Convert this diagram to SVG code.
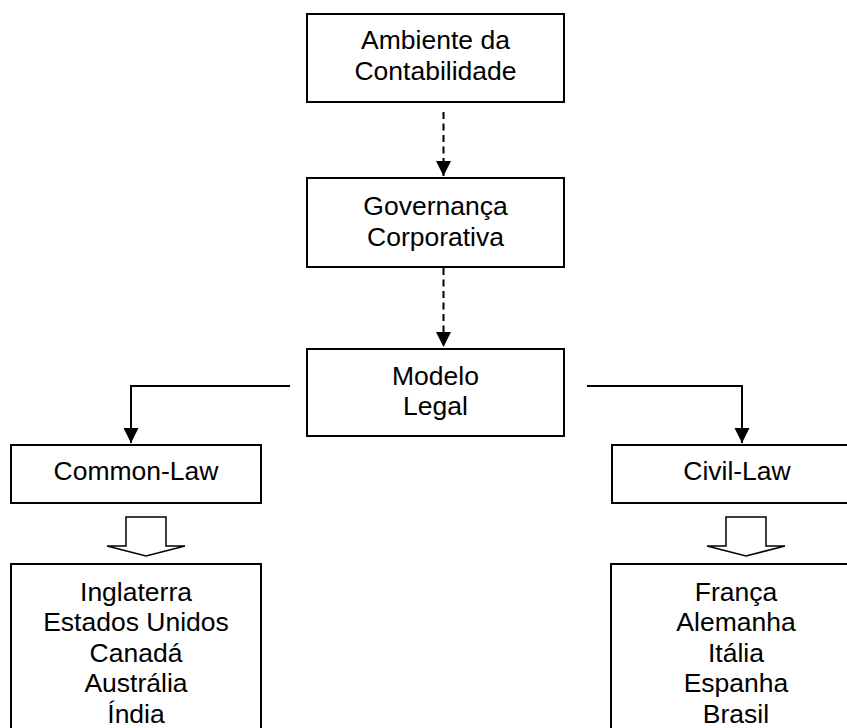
<svg xmlns="http://www.w3.org/2000/svg" width="847" height="728" viewBox="0 0 847 728">
  <defs>
    <style>
      .box { fill: #ffffff; stroke: #000000; stroke-width: 2; }
      .lbl { font-family: "Liberation Sans", Arial, sans-serif; font-size: 26.5px; fill: #000000; text-anchor: middle; }
      .dash { fill: none; stroke: #000000; stroke-width: 2; stroke-dasharray: 7 4.5; }
      .solid { fill: none; stroke: #000000; stroke-width: 2; }
      .block { fill: #ffffff; stroke: #000000; stroke-width: 1.5; stroke-linejoin: miter; }
    </style>
    <marker id="tri" markerWidth="15" markerHeight="16" refX="15" refY="7.5" orient="auto" markerUnits="userSpaceOnUse" viewBox="0 0 15 15">
      <path d="M0,0 L15,7.5 L0,15 Z" fill="#000000"/>
    </marker>
  </defs>
  <rect width="847" height="728" fill="#ffffff"/>

  <g id="connectors">
    <line class="dash" x1="443.5" y1="112" x2="443.5" y2="176" marker-end="url(#tri)"/>
    <line class="dash" x1="443.5" y1="268" x2="443.5" y2="347" marker-end="url(#tri)"/>
    <polyline class="solid" points="290,386 131,386 131,443" marker-end="url(#tri)"/>
    <polyline class="solid" points="587,386 742,386 742,443" marker-end="url(#tri)"/>
    <polygon class="block" points="126,517 166,517 166,546 185,546 146,556 107,546 126,546"/>
    <polygon class="block" points="726,517 766,517 766,546 785,546 746,556 707,546 726,546"/>
  </g>

  <g id="ambiente">
    <rect class="box" x="307" y="14" width="257" height="88"/>
    <text class="lbl" x="435.5" y="49">Ambiente da</text>
    <text class="lbl" x="435.5" y="80">Contabilidade</text>
  </g>

  <g id="governanca">
    <rect class="box" x="307" y="178" width="257" height="89"/>
    <text class="lbl" x="435.5" y="215">Governança</text>
    <text class="lbl" x="435.5" y="246">Corporativa</text>
  </g>

  <g id="modelo">
    <rect class="box" x="307" y="349" width="257" height="87"/>
    <text class="lbl" x="435.5" y="385">Modelo</text>
    <text class="lbl" x="435.5" y="415">Legal</text>
  </g>

  <g id="common-law">
    <rect class="box" x="11" y="445" width="250" height="58"/>
    <text class="lbl" x="136" y="480">Common-Law</text>
  </g>

  <g id="civil-law">
    <rect class="box" x="612" y="445" width="250" height="58"/>
    <text class="lbl" x="737" y="480">Civil-Law</text>
  </g>

  <g id="paises-common">
    <rect class="box" x="11" y="564" width="250" height="180"/>
    <text class="lbl" x="136" y="601">Inglaterra</text>
    <text class="lbl" x="136" y="631">Estados Unidos</text>
    <text class="lbl" x="136" y="662">Canadá</text>
    <text class="lbl" x="136" y="692">Austrália</text>
    <text class="lbl" x="136" y="723">Índia</text>
  </g>

  <g id="paises-civil">
    <rect class="box" x="611" y="564" width="250" height="180"/>
    <text class="lbl" x="736" y="601">França</text>
    <text class="lbl" x="736" y="631">Alemanha</text>
    <text class="lbl" x="736" y="662">Itália</text>
    <text class="lbl" x="736" y="692">Espanha</text>
    <text class="lbl" x="736" y="723">Brasil</text>
  </g>
</svg>
